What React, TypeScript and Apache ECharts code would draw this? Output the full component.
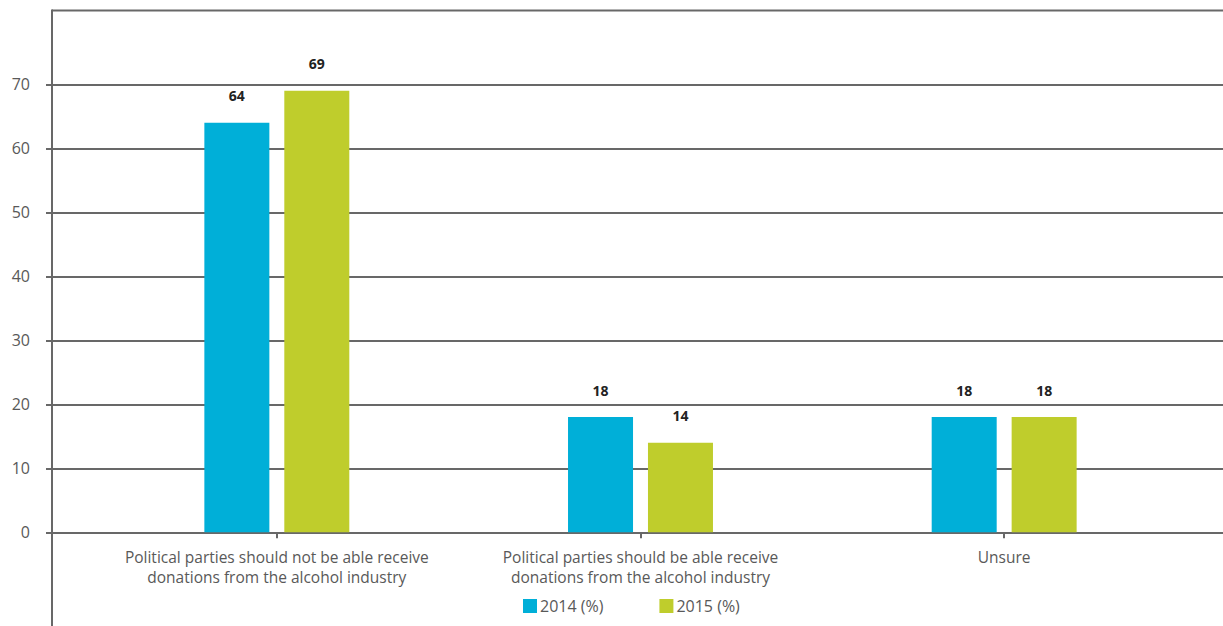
import React, { useEffect, useRef } from "react";
import * as echarts from "echarts";

const categories = [
  "Political parties should not be able receive\ndonations from the alcohol industry",
  "Political parties should be able receive\ndonations from the alcohol industry",
  "Unsure",
];
const series2014 = [64, 18, 18];
const series2015 = [69, 14, 18];
const seriesNames = ["2014 (%)", "2015 (%)"];
const yTicks = { min: 0, max: 70, interval: 10 };

const FONT = "Open Sans";
const AXIS = "#686868";

export default function App() {
  const ref = useRef<HTMLDivElement>(null);
  useEffect(() => {
    const chart = echarts.init(ref.current!, null, { renderer: "svg" });
    const labelStyle = {
      show: true,
      position: "top" as const,
      distance: 20,
      fontFamily: FONT,
      fontWeight: "bold" as const,
      fontSize: 14,
      color: "#222",
    };
    chart.setOption({
      animation: false,
      textStyle: { fontFamily: FONT },
      grid: [
        { left: 52, right: 0, top: 84.3, bottom: 93.7 },
        { left: 95, right: 37, top: 84.3, bottom: 93.7 },
      ],
      xAxis: [
        { type: "value", gridIndex: 0, show: false, min: 0, max: 1 },
        {
          type: "category",
          gridIndex: 1,
          data: categories,
          axisLine: { show: false },
          axisTick: {
            show: true,
            alignWithLabel: true,
            length: 6,
            lineStyle: { color: AXIS, width: 2 },
          },
          axisLabel: {
            fontFamily: FONT,
            fontSize: 15.5,
            color: "#595959",
            lineHeight: 20,
            margin: 15,
            interval: 0,
          },
        },
      ],
      yAxis: [
        {
          type: "value",
          gridIndex: 0,
          min: yTicks.min,
          max: yTicks.max,
          interval: yTicks.interval,
          axisLine: { show: false },
          axisTick: { show: true, length: 6, lineStyle: { color: AXIS, width: 2 } },
          splitLine: { show: true, lineStyle: { color: AXIS, width: 2 } },
          axisLabel: { fontFamily: FONT, fontSize: 16, color: "#595959", margin: 22 },
        },
        {
          type: "value",
          gridIndex: 1,
          min: yTicks.min,
          max: yTicks.max,
          interval: yTicks.interval,
          show: false,
          splitLine: { show: false },
        },
      ],
      legend: {
        left: 518,
        top: 593,
        icon: "rect",
        itemWidth: 14,
        itemHeight: 14,
        itemGap: 56,
        textStyle: { fontFamily: FONT, fontSize: 16, color: "#595959", padding: [0, 0, 0, -2] },
        data: seriesNames,
      },
      series: [
        {
          name: seriesNames[0],
          type: "bar",
          xAxisIndex: 1,
          yAxisIndex: 1,
          data: series2014,
          barWidth: 65,
          barGap: "23%",
          itemStyle: { color: "#00AFD8" },
          label: labelStyle,
        },
        {
          name: seriesNames[1],
          type: "bar",
          xAxisIndex: 1,
          yAxisIndex: 1,
          data: series2015,
          barWidth: 65,
          barGap: "23%",
          itemStyle: { color: "#BFCD2C" },
          label: labelStyle,
        },
      ],
      graphic: [
        {
          type: "line",
          shape: { x1: 52, y1: 10.5, x2: 1223, y2: 10.5 },
          style: { stroke: AXIS, lineWidth: 2 },
        },
        {
          type: "line",
          shape: { x1: 52, y1: 9.5, x2: 52, y2: 626 },
          style: { stroke: AXIS, lineWidth: 2 },
        },
      ],
    });
    return () => chart.dispose();
  }, []);
  return (
    <div
      ref={ref}
      style={{ position: "absolute", left: 0, top: 0, width: 1223, height: 626 }}
    />
  );
}
